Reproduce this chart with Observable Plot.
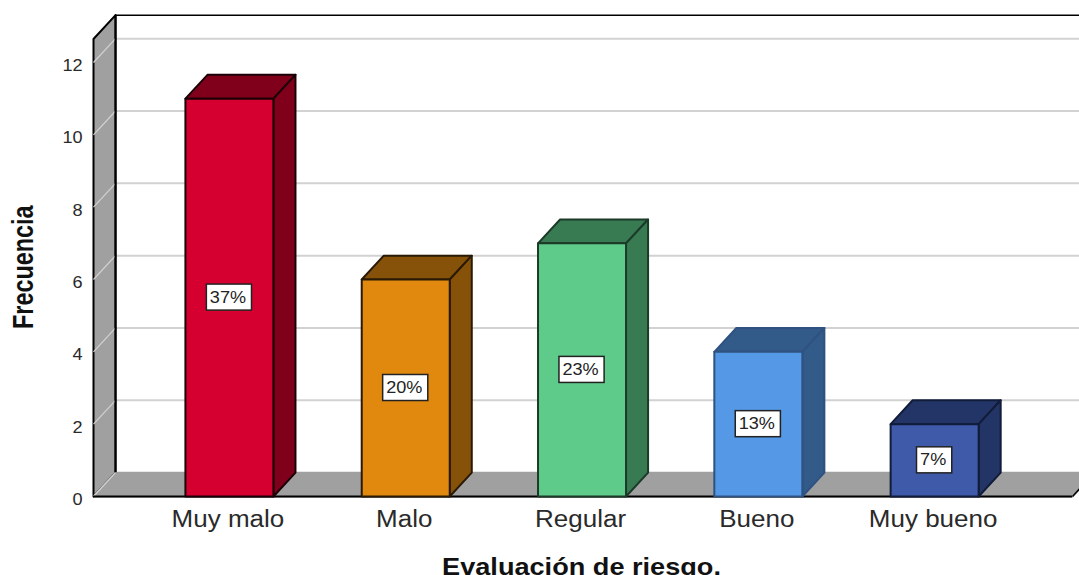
<!DOCTYPE html>
<html lang="es">
<head>
<meta charset="utf-8">
<title>Evaluación de riesgo</title>
<script src="https://cdn.jsdelivr.net/npm/d3@7"></script>
<script src="https://cdn.jsdelivr.net/npm/@observablehq/plot@0.6"></script>
<style>
  html, body { margin: 0; padding: 0; background: #fff; }
  svg { display: block; }
</style>
</head>
<body>
<div id="chart"></div>
<script>
// Frequency of each risk rating
const categories = ["Muy malo", "Malo", "Regular", "Bueno", "Muy bueno"];
const frequencies = [11, 6, 7, 4, 2];
const percentLabels = ["37%", "20%", "23%", "13%", "7%"];
const frontColors = ["#d60030", "#e0890e", "#5ecb8a", "#5598e6", "#3f5aa8"];
const sideColors = ["#80001c", "#86520a", "#387a52", "#335b8a", "#233566"];
const edgeColors = ["#1a0006", "#2a1a05", "#1c3a28", "#2f5280", "#111c3a"];
const yTicks = [0, 2, 4, 6, 8, 10, 12];

// Extent of the box, and the oblique offset of its back plane, in data units
const xMin = -0.771, xMax = 4.782, yMax = 12.65;
const depthX = 0.125, depthY = 0.66;
const barHalf = 0.2496;
const boxHalfHeight = 0.36;
const wallGray = "#a0a0a0", gridGray = "#d2d2d2";

// Horizontal text is widened; the rotated axis title is narrowed along its run
const wideText = 1.13, axisTitleRun = 0.806;

// Closed polygons are drawn as filled lines, one z group per face
const polygon = (id, fill, stroke, pts) =>
  [...pts, pts[0]].map(([x, y]) => ({id, fill, stroke, x, y}));

const wall = [
  ...polygon("wall-left", wallGray, "black", [[xMin, 0], [xMin, yMax], [xMin + depthX, yMax + depthY], [xMin + depthX, depthY]]),
  ...polygon("floor", wallGray, wallGray, [[xMin, 0], [xMax, 0], [xMax + depthX, depthY], [xMin + depthX, depthY]])
];

const faces = categories.flatMap((c, i) => {
  const v = frequencies[i], a = i - barHalf, b = i + barHalf, edge = edgeColors[i];
  return [
    ...polygon(c + "-top", sideColors[i], edge, [[a, v], [b, v], [b + depthX, v + depthY], [a + depthX, v + depthY]]),
    ...polygon(c + "-side", sideColors[i], edge, [[b, 0], [b + depthX, depthY], [b + depthX, v + depthY], [b, v]]),
    ...polygon(c + "-front", frontColors[i], edge, [[a, 0], [b, 0], [b, v], [a, v]])
  ];
});

const labelRows = categories.map((c, i) => ({
  i,
  mid: frequencies[i] / 2,
  text: percentLabels[i],
  half: percentLabels[i].length === 2 ? 0.1 : 0.128
}));

const chart = Plot.plot({
  width: 1079,
  height: 575,
  marginLeft: 93,
  marginRight: 7,
  marginTop: 38.5,
  marginBottom: 79,
  style: {fontFamily: "Liberation Sans, Arial, sans-serif", background: "white", color: "#2a2a2a"},
  x: {domain: [xMin, xMax]},
  y: {domain: [0, yMax]},
  marks: [
    // Back-plane gridlines, then their continuation across the left wall
    Plot.ruleY(yTicks.filter(d => d > 0), {
      x1: xMin + depthX, x2: xMax + 2 * depthX,
      y: d => d + depthY, stroke: gridGray, strokeWidth: 2
    }),
    Plot.line(wall, {x: "x", y: "y", z: "id", fill: "fill", stroke: "stroke", strokeWidth: 2}),
    Plot.link(yTicks, {
      x1: xMin, x2: xMin + depthX,
      y1: d => d, y2: d => d + depthY,
      stroke: gridGray, strokeWidth: 1.2
    }),
    // Box outline: top of the back plane, back of the left wall, front and right floor edges
    Plot.ruleY([yMax + depthY], {x1: xMin + depthX, x2: xMax + 2 * depthX, stroke: "black", strokeWidth: 1.5}),
    Plot.ruleX([xMin + depthX], {y1: depthY, y2: yMax + depthY, stroke: "black", strokeWidth: 2}),
    Plot.ruleY([0], {x1: xMin, x2: xMax, stroke: "black", strokeWidth: 2}),
    Plot.link([0], {x1: xMax, x2: xMax + depthX, y1: 0, y2: depthY, stroke: "black", strokeWidth: 1.5}),

    // Oblique bars
    Plot.line(faces, {x: "x", y: "y", z: "id", fill: "fill", stroke: "stroke", strokeWidth: 2, strokeLinejoin: "round"}),

    // Percentage tags on the bar fronts
    Plot.rect(labelRows, {
      x1: d => d.i - d.half, x2: d => d.i + d.half,
      y1: d => d.mid - boxHalfHeight, y2: d => d.mid + boxHalfHeight,
      fill: "white", stroke: "#222", strokeWidth: 1.5
    }),
    Plot.text(labelRows, {x: "i", y: "mid", text: "text", dx: -1.5, fontSize: 16, fill: "#222"}),

    // Axes
    Plot.axisY(yTicks, {anchor: "left", tickSize: 0, tickPadding: 11, dy: 3.5, fontSize: 16, label: null}),
    Plot.axisX(d3.range(categories.length), {
      anchor: "bottom", tickSize: 0, tickPadding: 14, dx: -1.5, fontSize: 23,
      tickFormat: i => categories[i], label: null
    }),
    Plot.text(["Evaluación de riesgo."], {
      frameAnchor: "bottom", dx: -1.5, dy: 78, fontSize: 24, fontWeight: 700, fill: "#111"
    }),
    Plot.text(["Frecuencia"], {
      frameAnchor: "left", textAnchor: "middle", dx: -70, dy: -0.5, rotate: -90,
      fontSize: 29, fontWeight: 700, fill: "#111"
    })
  ]
});

document.getElementById("chart").append(chart);

// Lengths can only be measured once the SVG is in the document
d3.select(chart).selectAll("text").each(function () {
  const factor = this.textContent === "Frecuencia" ? axisTitleRun : wideText;
  this.setAttribute("textLength", this.getComputedTextLength() * factor);
  this.setAttribute("lengthAdjust", "spacingAndGlyphs");
});
</script>
</body>
</html>
